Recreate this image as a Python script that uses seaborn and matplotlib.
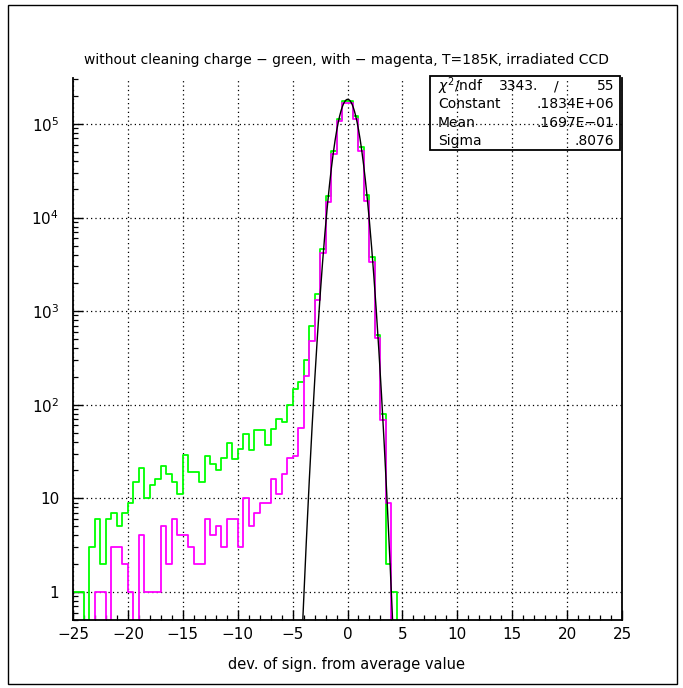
import numpy as np
import pandas as pd
import matplotlib
matplotlib.use("Agg")
import matplotlib.pyplot as plt
import matplotlib.ticker as mticker
from matplotlib.patches import Rectangle
import seaborn as sns

# ---------------- data ----------------
bin_lo, bin_hi, bin_w = -25.0, 25.0, 0.5
green_counts = [
    1, 1, 0, 3, 6, 2, 6, 7, 5, 7,
    9, 15, 21, 10, 14, 16, 22, 18, 15, 11,
    29, 19, 19, 15, 28, 23, 20, 27, 39, 26,
    34, 49, 33, 53, 53, 37, 55, 70, 66, 100,
    148, 175, 303, 690, 1535, 4580, 16800, 50900, 113000, 175000,
    175000, 123000, 56200, 17500, 3790, 553, 80, 2, 1, 0,
] + [0] * 40
magenta_counts = [
    0, 0, 0, 0, 1, 1, 0, 3, 3, 2,
    1, 0, 4, 1, 1, 1, 5, 2, 6, 4,
    4, 3, 2, 2, 6, 4, 5, 3, 6, 6,
    3, 10, 5, 7, 9, 9, 16, 11, 18, 27,
    28, 56, 201, 477, 1300, 4220, 14700, 47700, 107000, 166000,
    166000, 113000, 51800, 15100, 3350, 510, 68, 9, 0, 0,
] + [0] * 40
fit_constant = 0.1834e6
fit_mean = 0.1697e-01
fit_sigma = 0.8076
chi2_value = "3343."
ndf_value = "55"
x_ticks = [-25, -20, -15, -10, -5, 0, 5, 10, 15, 20, 25]
y_ticks = [1, 10, 1e2, 1e3, 1e4, 1e5]
y_tick_labels = ["1", "10", r"10$^{2}$", r"10$^{3}$", r"10$^{4}$", r"10$^{5}$"]
title_text = "without cleaning charge \u2212 green, with \u2212 magenta, T=185K, irradiated CCD"
xlabel_text = "dev. of sign. from average value"

# ---------------- setup ----------------
sns.set_theme(style="white")
plt.rcParams["font.family"] = ["DejaVu Sans"]
plt.rcParams["text.color"] = "black"
plt.rcParams["xtick.color"] = "black"
plt.rcParams["ytick.color"] = "black"
plt.rcParams["axes.labelcolor"] = "black"

W, H = 683, 688
fig = plt.figure(figsize=(W / 100, H / 100), dpi=100)
fig.patch.set_facecolor("white")

L, R, T, B = 73, 622, 78, 620
ax = fig.add_axes([L / W, 1 - B / H, (R - L) / W, (B - T) / H])
ax.set_facecolor("white")

edges = [bin_lo + bin_w * i for i in range(len(green_counts) + 1)]
centers = [e + bin_w / 2 for e in edges[:-1]]
df = pd.DataFrame({"x": centers, "green": green_counts, "magenta": magenta_counts})

sns.histplot(data=df, x="x", weights="green", bins=edges, element="step",
             fill=False, color="#00ff00", linewidth=1.3, ax=ax)
sns.histplot(data=df, x="x", weights="magenta", bins=edges, element="step",
             fill=False, color="#ff00ff", linewidth=1.3, ax=ax)

xf = np.linspace(-5.5, 5.5, 600)
yf = fit_constant * np.exp(-0.5 * ((xf - fit_mean) / fit_sigma) ** 2)
sns.lineplot(x=xf, y=yf, color="black", linewidth=1.0, ax=ax, estimator=None)

ax.set_yscale("log", nonpositive="clip")
ax.set_xlim(bin_lo, bin_hi)
ax.set_ylim(0.5, 3.1e5)

ax.xaxis.set_major_locator(mticker.FixedLocator(x_ticks))
ax.xaxis.set_minor_locator(mticker.MultipleLocator(1))
ax.yaxis.set_major_locator(mticker.FixedLocator(y_ticks))
ax.yaxis.set_major_formatter(mticker.FixedFormatter(y_tick_labels))
ax.yaxis.set_minor_locator(mticker.LogLocator(base=10, subs=np.arange(2, 10), numticks=20))
ax.yaxis.set_minor_formatter(mticker.NullFormatter())

ax.tick_params(axis="both", which="major", direction="in", length=7.5, width=1.0,
               color="black", labelcolor="black", labelsize=11, top=False,
               right=False, bottom=True, left=True)
ax.tick_params(axis="both", which="minor", direction="in", length=3.8, width=0.9,
               color="black", top=False, right=False, bottom=True, left=True)
ax.tick_params(axis="x", which="major", pad=5)
ax.tick_params(axis="y", which="major", pad=10)

ax.grid(True, which="major", color="black", linestyle=(0, (1, 2.5)), linewidth=0.9)
for name, s in ax.spines.items():
    s.set_visible(name != "top")
    s.set_color("black")
    s.set_linewidth(1.3)

ax.set_xlabel("")
ax.set_ylabel("")

# title and x label
fig.text(347 / W, 1 - 60 / H, title_text, ha="center", va="center", fontsize=10)
fig.text(347 / W, 1 - 665 / H, xlabel_text, ha="center", va="center", fontsize=10.5)

# stats box
bx0, bx1, by0, by1 = 430, 620, 76, 150
fig.add_artist(Rectangle((bx0 / W, 1 - by1 / H), (bx1 - bx0) / W, (by1 - by0) / H,
                         transform=fig.transFigure, fill=False, edgecolor="black",
                         linewidth=1.3))
rows_y = [86, 104, 123, 141]
fs = 10
fig.text(438 / W, 1 - rows_y[0] / H, r"$\chi^{2}$/ndf", ha="left", va="center", fontsize=fs)
fig.text(538 / W, 1 - rows_y[0] / H, chi2_value, ha="right", va="center", fontsize=fs)
fig.text(556 / W, 1 - rows_y[0] / H, "/", ha="center", va="center", fontsize=fs)
fig.text(614 / W, 1 - rows_y[0] / H, ndf_value, ha="right", va="center", fontsize=fs)
labels = ["Constant", "Mean", "Sigma"]
values = [".1834E+06", ".1697E\u221201", ".8076"]
for lab, val, yy in zip(labels, values, rows_y[1:]):
    fig.text(438 / W, 1 - yy / H, lab, ha="left", va="center", fontsize=fs)
    fig.text(614 / W, 1 - yy / H, val, ha="right", va="center", fontsize=fs)

# outer canvas border
fig.add_artist(Rectangle((8 / W, 1 - 684 / H), (677 - 8) / W, (684 - 5) / H,
                         transform=fig.transFigure, fill=False, edgecolor="black",
                         linewidth=1.0))

fig.savefig("out.png", dpi=100, facecolor="white")
